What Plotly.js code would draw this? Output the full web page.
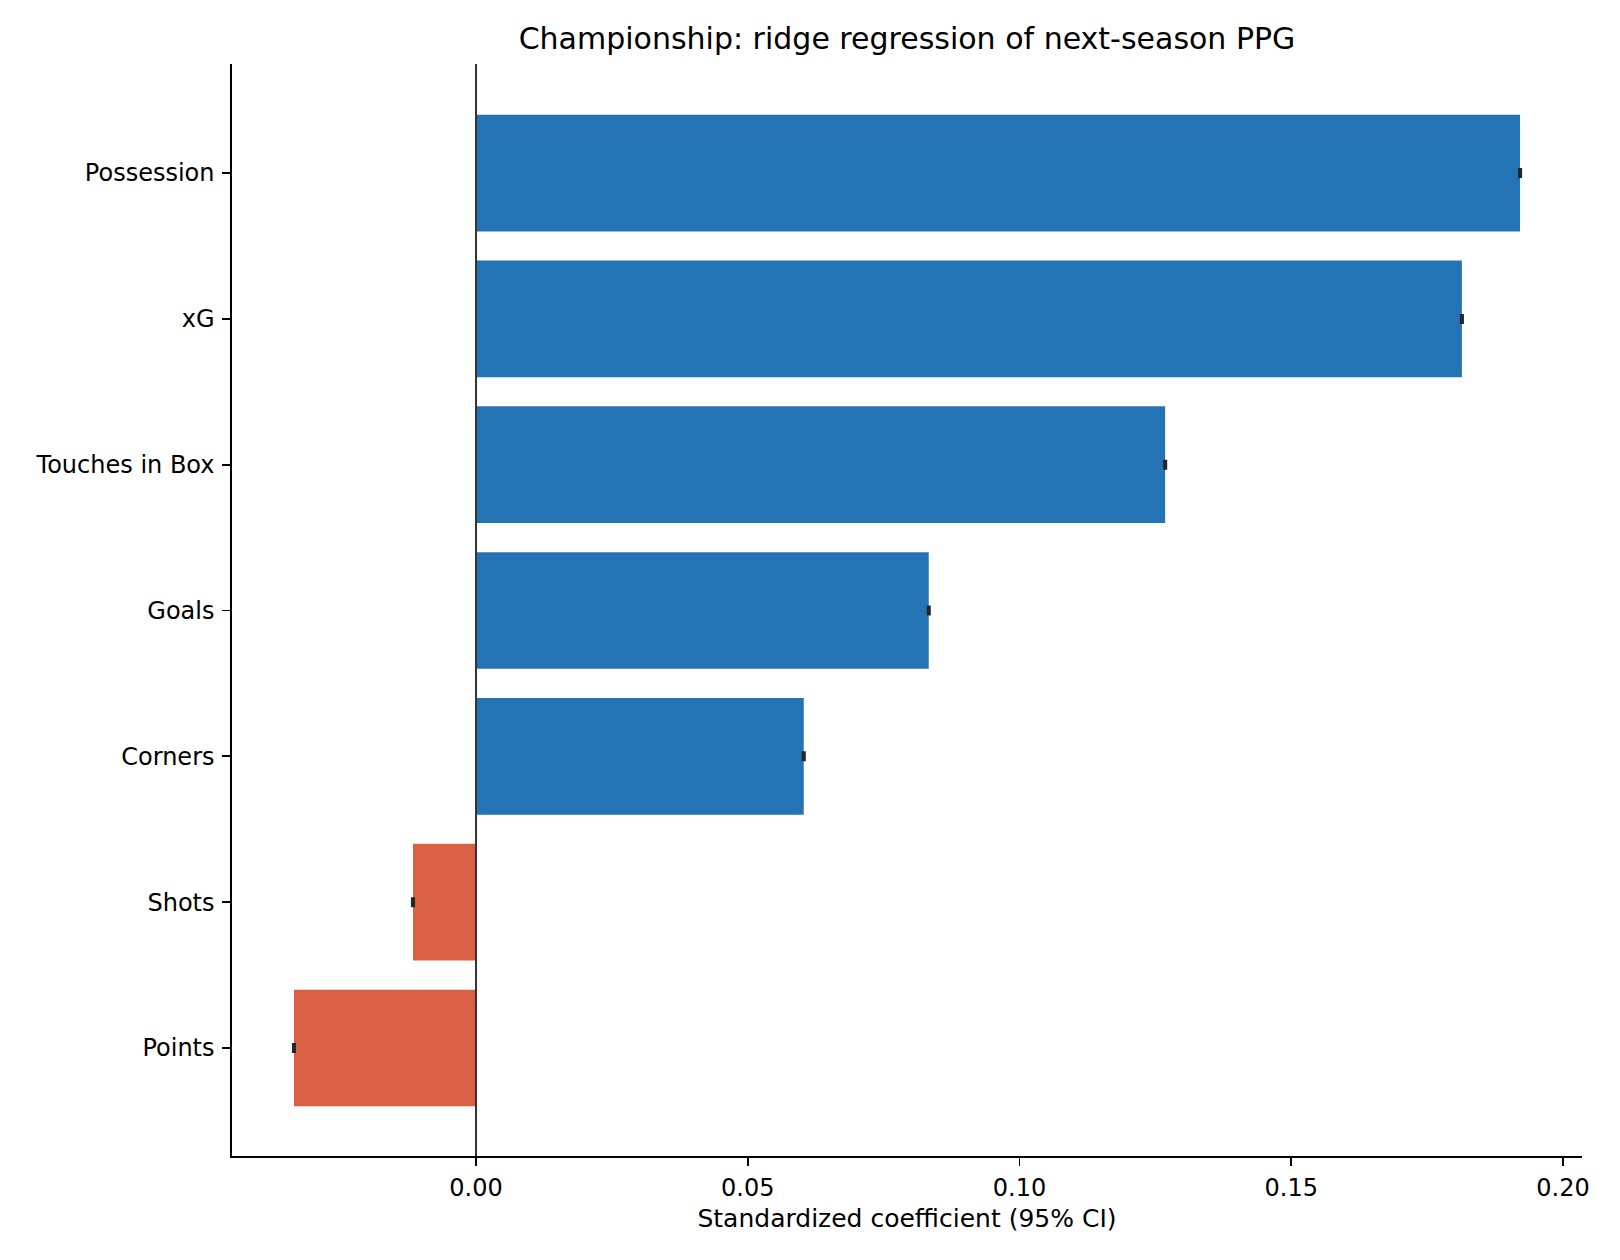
<!DOCTYPE html>
<html>
<head>
<meta charset="utf-8">
<script src="https://cdn.plot.ly/plotly-3.0.1.min.js"></script>
<style>html,body{margin:0;padding:0;background:#fff;}#chart{width:1620px;height:1260px;}</style>
</head>
<body>
<div id="chart"></div>
<script>
const features = ["Points", "Shots", "Corners", "Goals", "Touches in Box", "xG", "Possession"];
const coefficients = [-0.0335, -0.0116, 0.0603, 0.0833, 0.1268, 0.1814, 0.1921];
const ciHalfWidth = [0.0001, 0.0001, 0.0001, 0.0001, 0.0001, 0.0001, 0.0001];
const xTickVals = [0.00, 0.05, 0.10, 0.15, 0.20];
const xTickText = ["0.00", "0.05", "0.10", "0.15", "0.20"];
const positiveColor = "#2473b4";
const negativeColor = "#d95f45";

const colors = coefficients.map(v => v >= 0 ? positiveColor : negativeColor);

const trace = {
  type: "bar",
  orientation: "h",
  x: coefficients,
  y: features,
  width: 0.8,
  marker: {color: colors, line: {width: 0}},
  error_x: {type: "data", array: ciHalfWidth, visible: true, color: "#262626", thickness: 3, width: 5},
  hoverinfo: "x+y"
};

const layout = {
  width: 1620,
  height: 1260,
  paper_bgcolor: "#ffffff",
  plot_bgcolor: "#ffffff",
  margin: {l: 232, r: 38, t: 64, b: 104},
  font: {family: "DejaVu Sans", size: 24, color: "#000"},
  title: {text: "Championship: ridge regression of next-season PPG", x: (232 + 1582) / 2 / 1620, xanchor: "center", y: 1 - 38/1260, yanchor: "middle", font: {size: 30, family: "DejaVu Sans", color: "#000"}},
  showlegend: false,
  bargap: 0.2,
  xaxis: {
    range: [-0.0449, 0.2035],
    tickvals: xTickVals,
    ticktext: xTickText,
    ticks: "outside",
    ticklen: 8,
    tickwidth: 1.7,
    tickcolor: "#000",
    showline: true,
    linecolor: "#000",
    linewidth: 1.7,
    showgrid: false,
    zeroline: false,
    tickfont: {size: 24},
    ticklabelstandoff: 1,
    title: {text: "Standardized coefficient (95% CI)", font: {size: 25}, standoff: 9}
  },
  yaxis: {
    type: "category",
    range: [-0.741, 6.748],
    ticks: "outside",
    ticklen: 8,
    tickwidth: 1.7,
    tickcolor: "#000",
    showline: true,
    linecolor: "#000",
    linewidth: 1.7,
    showgrid: false,
    zeroline: false,
    tickfont: {size: 24},
    ticklabelstandoff: 3
  },
  shapes: [{
    type: "line", xref: "x", yref: "paper", x0: 0, x1: 0, y0: 0, y1: 1,
    line: {color: "#333333", width: 2}, layer: "above"
  }]
};

Plotly.newPlot("chart", [trace], layout, {displayModeBar: false, staticPlot: true});
</script>
</body>
</html>
